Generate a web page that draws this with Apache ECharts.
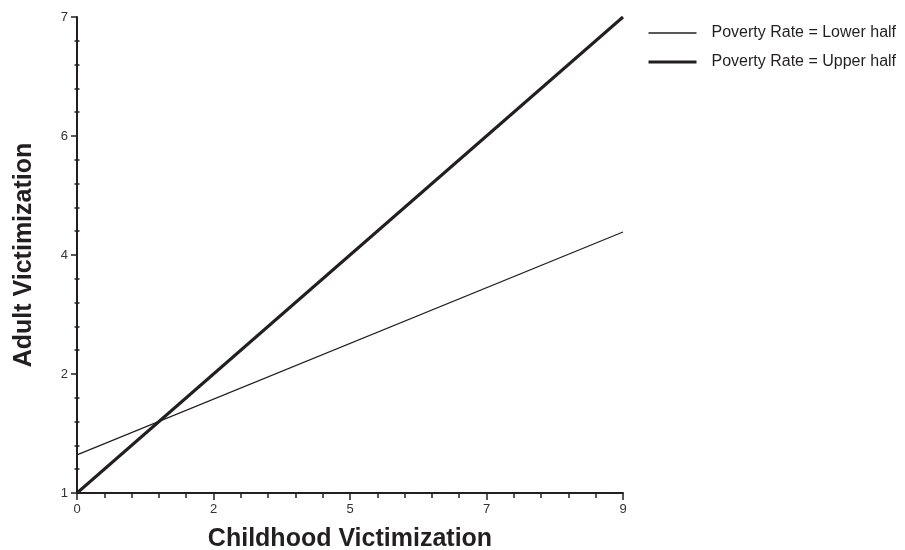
<!DOCTYPE html>
<html>
<head>
<meta charset="utf-8">
<script src="https://cdn.jsdelivr.net/npm/echarts@6/dist/echarts.min.js"></script>
<style>
html,body{margin:0;padding:0;background:#fff;}
#chart{width:905px;height:550px;}
</style>
</head>
<body>
<div id="chart"></div>
<script>
// ---- data ----
var xValues = [0, 9];
var lowerHalf = [1.48, 4.29];
var upperHalf = [1.0, 7.0];
var seriesNames = ['Poverty Rate = Lower half', 'Poverty Rate = Upper half'];
var xTickValues = [0, 2.25, 4.5, 6.75, 9];
var xTickLabels = ['0', '2', '5', '7', '9'];
var yTickValues = [1, 2.5, 4, 5.5, 7];
var yTickLabels = ['1', '2', '4', '6', '7'];
var xTitle = 'Childhood Victimization';
var yTitle = 'Adult Victimization';

function pairs(xs, ys) { return xs.map(function (x, i) { return [x, ys[i]]; }); }
function labelFor(vals, labels) {
  return function (v) {
    var best = 0, d = Infinity;
    for (var i = 0; i < vals.length; i++) { var dd = Math.abs(vals[i] - v); if (dd < d) { d = dd; best = i; } }
    return d < 1e-6 ? labels[best] : '';
  };
}
// minor tick positions: 5 subdivisions between each major tick
var yMinor = [];
for (var i = 0; i < yTickValues.length - 1; i++) {
  var step = (yTickValues[i + 1] - yTickValues[i]) / 5;
  for (var k = 1; k < 5; k++) yMinor.push(+(yTickValues[i] + step * k).toFixed(6));
}

var INK = '#231f20';
var FONT = 'Liberation Sans, Arial, sans-serif';
var NOSYM = { color: 'rgba(0,0,0,0)', borderWidth: 0, opacity: 0 };
var chart = echarts.init(document.getElementById('chart'), null, { renderer: 'canvas' });
chart.setOption({
  backgroundColor: '#fff',
  animation: false,
  grid: { left: 77, right: 282, top: 17, bottom: 57, containLabel: false, outerBoundsMode: 'none' },
  legend: {
    orient: 'vertical', left: 647, top: 25, padding: 0,
    itemWidth: 48, itemHeight: 14, itemGap: 13,
    textStyle: { fontFamily: FONT, fontSize: 16, color: INK, padding: [0, 0, 0, 10] },
    data: [
      { name: seriesNames[0], lineStyle: { color: INK, width: 1.4 }, itemStyle: NOSYM },
      { name: seriesNames[1], lineStyle: { color: INK, width: 3 }, itemStyle: NOSYM }
    ]
  },
  xAxis: {
    type: 'value', min: 0, max: 9, interval: 2.25,
    name: xTitle, nameLocation: 'middle', nameGap: 34,
    nameTextStyle: { fontFamily: FONT, fontSize: 25, fontWeight: 'bold', color: INK },
    axisLine: { show: true, lineStyle: { color: INK, width: 2 } },
    axisTick: { show: true, length: 7, lineStyle: { color: INK, width: 1.5 } },
    minorTick: { show: true, splitNumber: 5, length: 5, lineStyle: { color: INK, width: 1.5 } },
    axisLabel: { margin: 10, fontFamily: FONT, fontSize: 13, color: '#333', formatter: labelFor(xTickValues, xTickLabels) },
    splitLine: { show: false }
  },
  yAxis: [{
    type: 'value', min: 1, max: 7,
    name: yTitle, nameLocation: 'middle', nameGap: 40,
    nameTextStyle: { fontFamily: FONT, fontSize: 25, fontWeight: 'bold', color: INK },
    axisLine: { show: true, lineStyle: { color: INK, width: 2 } },
    axisTick: { show: true, length: 6, customValues: yTickValues, lineStyle: { color: INK, width: 1.5 } },
    axisLabel: { margin: 9, fontFamily: FONT, fontSize: 13, color: '#333', customValues: yTickValues, formatter: labelFor(yTickValues, yTickLabels) },
    splitLine: { show: false }
  }, {
    type: 'value', min: 1, max: 7, position: 'left', offset: -2.5,
    axisLine: { show: false },
    axisTick: { show: true, length: 5, customValues: yMinor, lineStyle: { color: INK, width: 1.5 } },
    axisLabel: { show: false },
    splitLine: { show: false }
  }],
  series: [
    { name: seriesNames[0], type: 'line', data: pairs(xValues, lowerHalf), symbol: 'none', lineStyle: { color: INK, width: 1.3 }, itemStyle: { color: INK } },
    { name: seriesNames[1], type: 'line', data: pairs(xValues, upperHalf), symbol: 'none', lineStyle: { color: INK, width: 3 }, itemStyle: { color: INK } }
  ]
});
</script>
</body>
</html>
